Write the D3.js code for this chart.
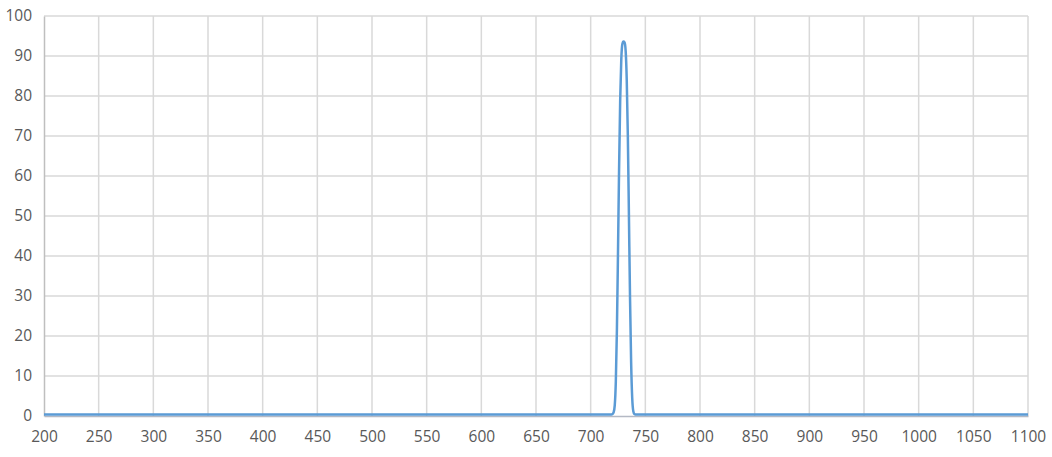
<!DOCTYPE html>
<html>
<head>
<meta charset="utf-8">
<script src="https://cdn.jsdelivr.net/npm/d3@7"></script>
<style>
  body { margin: 0; background: #fff; }
  .tick text { font-family: "Open Sans", sans-serif; font-size: 15.5px; fill: #595959; }
</style>
</head>
<body>
<div id="chart"></div>
<script>
// transmission spectrum (nm, %)
const wavelength = [200, 300, 400, 500, 600, 700, 715, 719, 720, 721, 722, 723, 724, 725, 726, 727, 728,
  729, 730, 731, 732, 733, 734, 735, 736, 737, 738, 739, 740, 741, 745, 800, 900, 1000, 1100];
const transmission = [0.4, 0.4, 0.4, 0.4, 0.4, 0.4, 0.4, 0.4, 0.5, 0.9, 2.6, 8.5, 21.5, 41.0, 62.0, 79.0, 89.1,
  93.0, 93.6, 93.4, 91.3, 84.0, 70.0, 50.0, 29.5, 13.5, 4.5, 1.2, 0.5, 0.4, 0.4, 0.4, 0.4, 0.4, 0.4];

const xTicks = d3.range(200, 1101, 50);
const yTicks = d3.range(0, 101, 10);

const width = 1052, height = 457;
const margin = {top: 16, right: 24, bottom: 41, left: 44};

const svg = d3.select("#chart").append("svg")
  .attr("width", width)
  .attr("height", height);

const x = d3.scaleLinear().domain([200, 1100]).range([margin.left, width - margin.right]);
const y = d3.scaleLinear().domain([0, 100]).range([height - margin.bottom, margin.top]);

//gridlines
svg.append("g").selectAll("line")
  .data(xTicks.slice(1))
  .enter().append("line")
  .attr("x1", d => x(d)).attr("x2", d => x(d))
  .attr("y1", y(0)).attr("y2", y(100))
  .attr("stroke", "#d9d9d9").attr("stroke-width", 1.5);

svg.append("g").selectAll("line")
  .data(yTicks.slice(1))
  .enter().append("line")
  .attr("x1", x(200)).attr("x2", x(1100))
  .attr("y1", d => y(d)).attr("y2", d => y(d))
  .attr("stroke", "#d9d9d9").attr("stroke-width", 1.5);

//axes
let xAxis = svg.append("g")
  .attr("transform", "translate(0," + y(0) + ")")
  .call(d3.axisBottom(x).tickValues(xTicks).tickSize(0).tickPadding(15).tickFormat(d3.format("d")));
xAxis.select(".domain").attr("stroke", "#b4b9c4").attr("stroke-width", 1.5);

let yAxis = svg.append("g")
  .attr("transform", "translate(" + x(200) + ",0)")
  .call(d3.axisLeft(y).tickValues(yTicks).tickSize(0).tickPadding(12));
yAxis.select(".domain").attr("stroke", "#bfbfbf").attr("stroke-width", 1.5);

//spectrum line
const line = d3.line()
  .x((d, i) => x(wavelength[i]))
  .y(d => y(d))
  .curve(d3.curveMonotoneX);

svg.append("path")
  .datum(transmission)
  .attr("d", line)
  .attr("fill", "none")
  .attr("stroke", "#5b9bd5")
  .attr("stroke-width", 2.5)
  .attr("stroke-linejoin", "round");
</script>
</body>
</html>
